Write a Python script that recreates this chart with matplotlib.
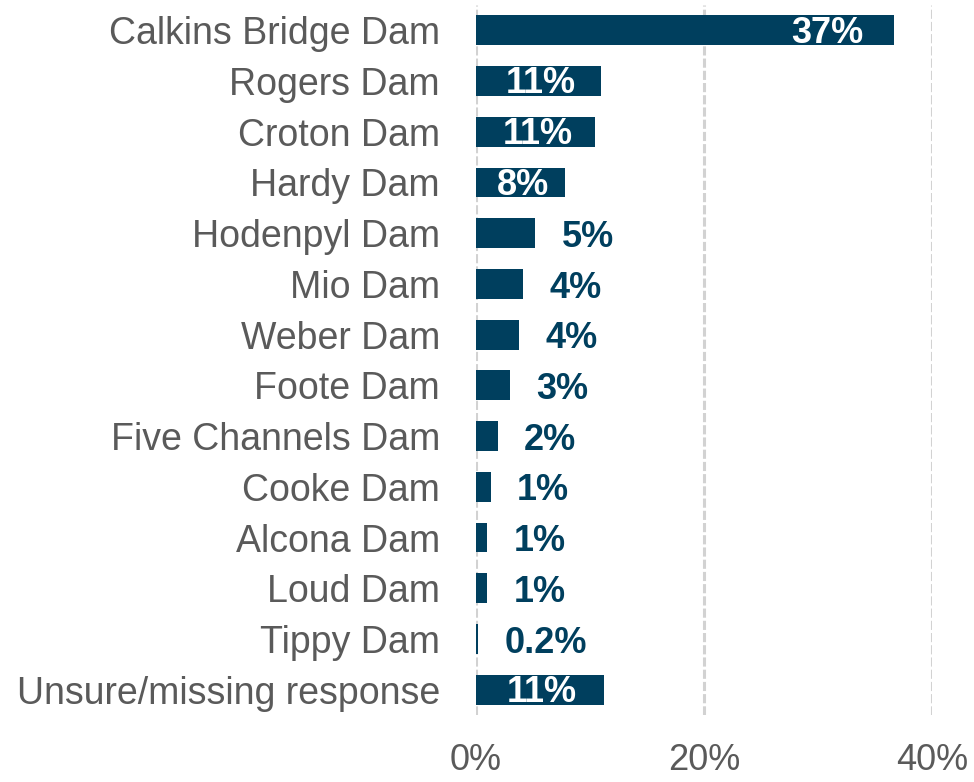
import matplotlib.pyplot as plt
from matplotlib.ticker import FuncFormatter

plt.rcParams['font.family'] = ['Liberation Sans', 'DejaVu Sans']

dams = ["Calkins Bridge Dam", "Rogers Dam", "Croton Dam", "Hardy Dam",
        "Hodenpyl Dam", "Mio Dam", "Weber Dam", "Foote Dam",
        "Five Channels Dam", "Cooke Dam", "Alcona Dam", "Loud Dam",
        "Tippy Dam", "Unsure/missing response"]
shares = [36.7, 11.0, 10.4, 7.8, 5.2, 4.1, 3.8, 3.0, 1.9, 1.3, 1.0, 1.0, 0.2, 11.2]
labels = ["37%", "11%", "11%", "8%", "5%", "4%", "4%", "3%", "2%",
          "1%", "1%", "1%", "0.2%", "11%"]

BAR = "#003f5e"
GREY = "#5a5a5a"

fig = plt.figure(figsize=(9.74, 7.82), dpi=100)
ax = fig.add_axes([476 / 974, 1 - 715 / 782, (932 - 476) / 974, 710 / 782])

y = list(range(len(dams)))
ax.barh(y, shares, height=0.59, color=BAR, zorder=3)

# value labels: white inside the long bars, dark blue beside the short ones
for yi, v, lab in zip(y, shares, labels):
    if v >= 7:
        if v > 20:
            ax.annotate(lab, (v, yi), xytext=(-22, -2), textcoords="offset points",
                        ha="right", va="center", color="white",
                        fontsize=26, fontweight="bold", zorder=4)
        else:
            ax.annotate(lab, (v / 2 + 0.2, yi), xytext=(0, -2), textcoords="offset points",
                        ha="center", va="center", color="white",
                        fontsize=26, fontweight="bold", zorder=4)
    else:
        ax.annotate(lab, (v, yi), xytext=(19, -3), textcoords="offset points",
                    ha="left", va="center", color=BAR,
                    fontsize=26, fontweight="bold", zorder=4)

ax.set_xlim(0, 40)
ax.set_ylim(len(dams) - 0.5, -0.5)
ax.set_xticks([0, 20, 40])
ax.xaxis.set_major_formatter(FuncFormatter(lambda v, p: f"{v:.0f}%"))
ax.set_yticks(y)
ax.set_yticklabels(dams)
ax.tick_params(axis="y", length=0, pad=26, labelsize=27, labelcolor=GREY)
ax.tick_params(axis="x", length=0, pad=20, labelsize=26, labelcolor=GREY)

ax.grid(axis="x", color="#d2d2d2", linestyle=(0, (3, 1)), linewidth=2.2, zorder=0)
for s in ax.spines.values():
    s.set_visible(False)

fig.savefig("out.png", dpi=100)
